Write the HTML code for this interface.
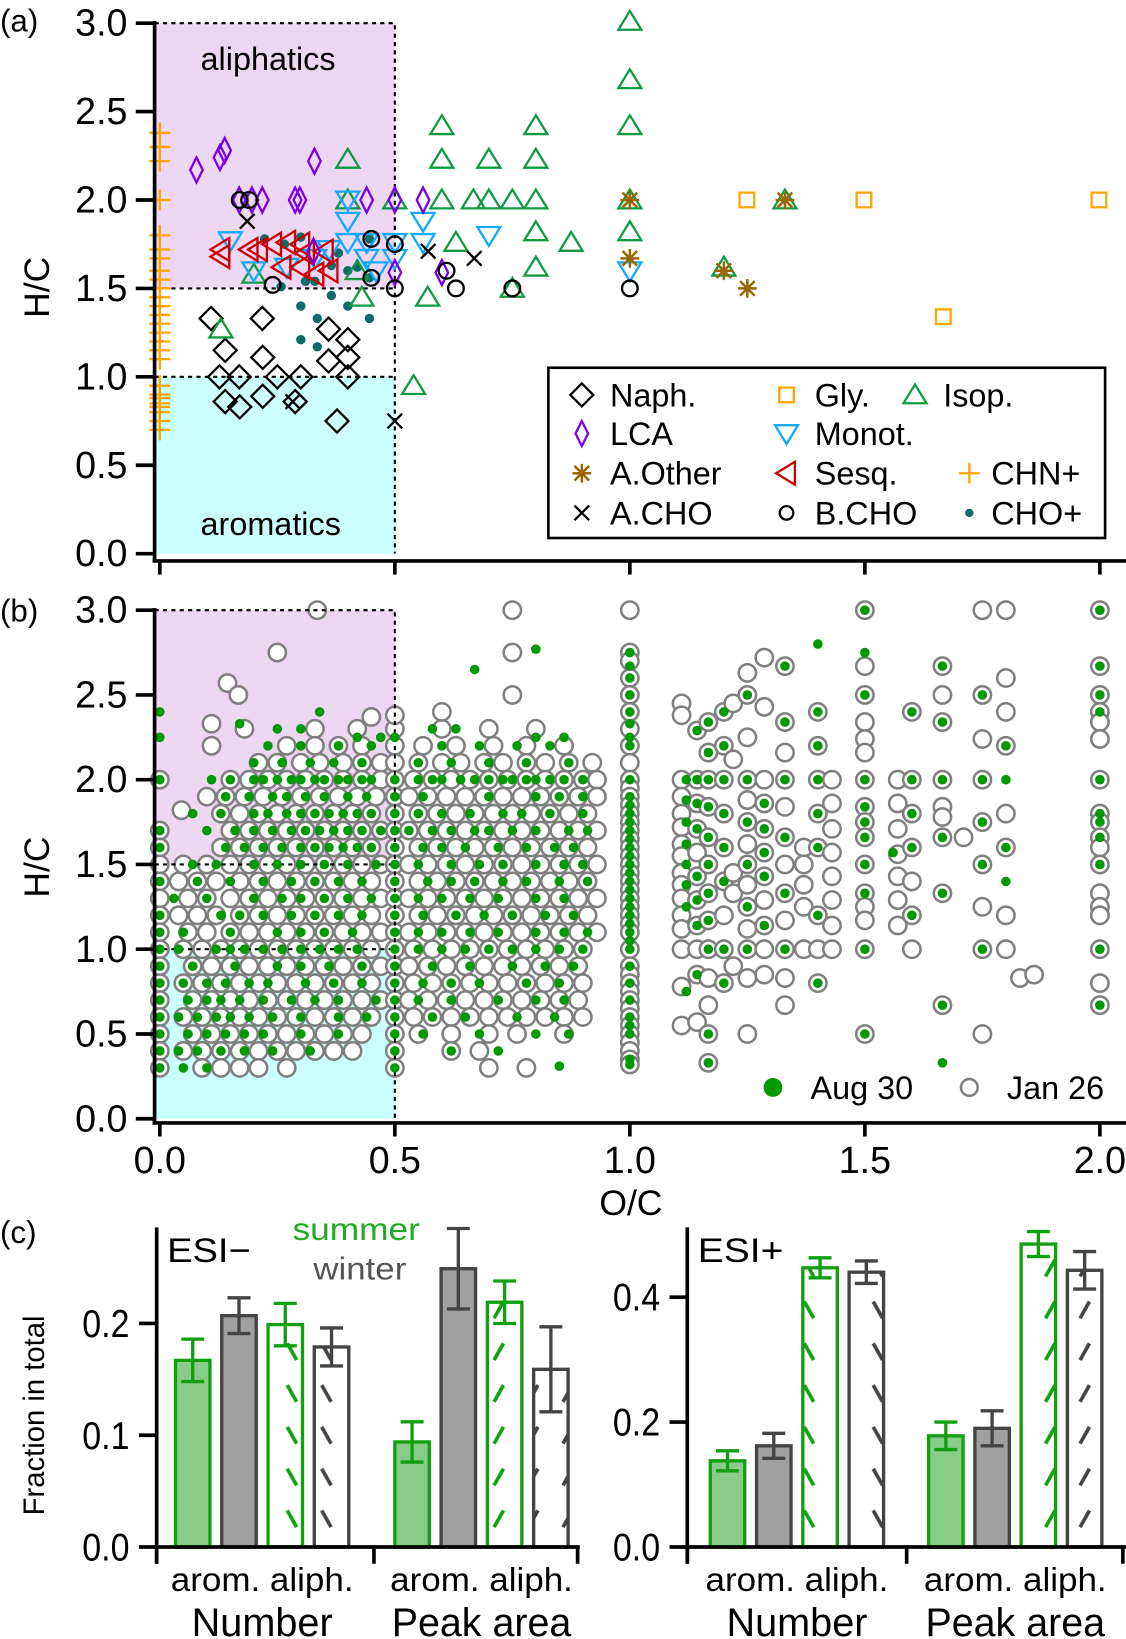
<!DOCTYPE html>
<html><head><meta charset="utf-8"><title>H/C vs O/C</title>
<style>html,body{margin:0;padding:0;background:#fff}svg{display:block}text{font-family:"Liberation Sans",sans-serif}</style></head>
<body>
<svg id="fig" xmlns="http://www.w3.org/2000/svg" width="1126" height="1639" viewBox="0 0 1078 1569">
<defs>
<pattern id="hatchG" patternUnits="userSpaceOnUse" width="33" height="40"><line x1="11" y1="6" x2="20" y2="22" stroke="#11a011" stroke-width="3.5"/></pattern>
<pattern id="hatchG2" patternUnits="userSpaceOnUse" width="33" height="40"><line x1="20" y1="6" x2="11" y2="22" stroke="#11a011" stroke-width="3.5"/></pattern>
<pattern id="hatchK" patternUnits="userSpaceOnUse" width="33" height="40"><line x1="11" y1="6" x2="20" y2="22" stroke="#444" stroke-width="3.5"/></pattern>
<pattern id="hatchK2" patternUnits="userSpaceOnUse" width="33" height="40"><line x1="20" y1="6" x2="11" y2="22" stroke="#444" stroke-width="3.5"/></pattern>
</defs>
<g id="pa"></g>
<g id="pb"></g>
<g id="pc"></g>
</svg>
<script>
// ---------- Panel (a) data ----------
const naphOC=[.109,.218,.139,.219,.127,.169,.25,.30,.139,.17,.219,.288,.359,.40,.40,.359,.40,.377];
const naphHC=[1.33,1.33,1.15,1.11,1.0,1.0,1.0,1.0,.86,.83,.89,.86,1.27,1.21,1.11,1.09,1.0,.75];
const lcaOC=[.078,.128,.138,.329,.169,.196,.218,.288,.298,.44,.5,.56,.5,.60,.327];
const lcaHC=[2.17,2.24,2.28,2.22,2.0,2.0,2.0,2.0,2.0,2.0,2.0,2.0,1.59,1.59,1.71];
const aothOC=[1.0,1.0,1.2,1.25,1.33];
const aothHC=[2.0,1.67,1.6,1.5,2.0];
const achoOC=[.186,.283,.5,.571,.669];
const achoHC=[1.88,.86,.75,1.71,1.67];
const glyOC=[1.249,1.498,1.998,1.667];
const glyHC=[2.0,2.0,2.0,1.34];
const isopOC=[1.0,1.0,1.0,1.0,1.0,.6,.8,.6,.7,.8,.4,.6,.667,.7,.75,.8,.4,.5,.8,.875,.8,.63,.57,.54,.13,.43,.75,1.33,1.2,.42,.2];
const isopHC=[3.01,2.68,2.42,2.0,1.82,2.42,2.42,2.23,2.23,2.23,2.23,2.0,2.0,2.0,2.0,2.0,2.0,2.0,1.82,1.76,1.62,1.76,1.45,.95,1.27,1.45,1.5,2.0,1.62,1.6,1.58];
const monoOC=[.4,.4,.44,.44,.4,.5,.5,.56,.56,.7,1.0,.15,.2,.33,.36,.46,.27];
const monoHC=[2.0,1.88,1.76,1.67,1.76,1.76,1.67,1.88,1.76,1.8,1.6,1.77,1.6,1.67,1.72,1.6,1.62];
const sesqOC=[.13,.13,.19,.24,.27,.3,.31,.26,.3,.33,.35,.21,.36];
const sesqHC=[1.72,1.68,1.72,1.75,1.76,1.75,1.7,1.62,1.62,1.58,1.71,1.72,1.6];
const bchoOC=[.17,.19,.24,.45,.45,.5,.5,.61,.63,.75,1.0];
const bchoHC=[2.0,2.0,1.52,1.78,1.56,1.75,1.5,1.6,1.5,1.5,1.5];
const chnHC=[2.38,2.3,2.22,2.0,1.8,1.72,1.67,1.6,1.55,1.5,1.45,1.4,1.35,1.3,1.25,1.2,1.15,1.1,.95,.9,.88,.85,.83,.8,.75,.7];
const choOC=[.3,.335,.3,.335,.446,.4,.365,.4,.446,.223,.265,.3,.365,.33,.31,.258,.446,.38,.42];
const choHC=[1.4,1.33,1.21,1.17,1.33,1.4,1.46,1.6,1.78,1.78,1.75,1.79,1.63,1.54,1.54,1.51,1.56,1.7,1.62];
const yTicks=[0,0.5,1.0,1.5,2.0,2.5,3.0];
const yTickLabels=["0.0","0.5","1.0","1.5","2.0","2.5","3.0"];
const xTicks=[0,0.5,1.0,1.5,2.0];
const xTickLabels=["0.0","0.5","1.0","1.5","2.0"];

// ---------- Panel (b) data ----------
const janRowHC=[2.3,2.2,2.1,2.0,1.9,1.8,1.7,1.6,1.5,1.4,1.3,1.2,1.1,1.0,0.9,0.8,0.7,0.6,0.5,0.4,0.3];
const janRowOC=[
[.18,.33,.42,.5,.6,.7,.8],
[.11,.27,.33,.38,.43,.5,.56,.63,.71,.78,.86],
[.21,.25,.3,.34,.39,.43,.47,.5,.55,.6,.64,.69,.73,.78,.82,.87,.92],
[0,.15,.19,.23,.27,.31,.35,.39,.43,.47,.5,.54,.58,.62,.66,.7,.74,.78,.82,.86,.9,.93],
[.1,.14,.18,.22,.26,.3,.34,.38,.42,.46,.5,.53,.57,.61,.65,.69,.73,.77,.81,.85,.89,.93],
[.13,.17,.21,.25,.29,.33,.37,.41,.45,.5,.55,.59,.63,.67,.71,.75,.79,.83,.87,.91],
[0,.15,.19,.23,.27,.31,.35,.39,.43,.47,.5,.53,.57,.61,.65,.69,.73,.77,.81,.85,.89,.93],
[0,.13,.17,.21,.25,.29,.33,.37,.41,.45,.5,.55,.59,.63,.67,.71,.75,.79,.83,.87,.91],
[0,.05,.1,.15,.19,.23,.27,.31,.35,.39,.43,.47,.5,.53,.57,.61,.65,.69,.73,.77,.81,.85,.89,.93],
[0,.04,.08,.12,.17,.21,.25,.29,.33,.37,.41,.45,.5,.55,.59,.63,.67,.71,.75,.79,.83,.87,.91],
[0,.06,.1,.15,.19,.23,.27,.31,.35,.39,.43,.47,.5,.53,.57,.61,.65,.69,.73,.77,.81,.85,.89,.93],
[0,.04,.08,.12,.17,.21,.25,.29,.33,.37,.41,.45,.5,.55,.59,.63,.67,.71,.75,.79,.83,.87,.91],
[0,.06,.1,.15,.19,.23,.27,.31,.35,.39,.43,.47,.5,.53,.57,.61,.65,.69,.73,.77,.81,.85,.89,.93],
[0,.05,.09,.13,.17,.21,.25,.29,.33,.37,.41,.45,.5,.54,.58,.62,.66,.7,.74,.78,.82,.86,.9],
[0,.07,.11,.15,.19,.23,.27,.31,.35,.39,.43,.47,.5,.53,.57,.61,.65,.69,.73,.77,.81,.85,.89],
[0,.05,.09,.13,.17,.21,.25,.29,.33,.37,.41,.45,.5,.54,.58,.62,.66,.7,.74,.78,.82,.86,.9],
[0,.07,.11,.15,.19,.23,.27,.31,.35,.39,.43,.47,.5,.53,.57,.61,.65,.69,.73,.77,.81,.85,.89],
[0,.05,.09,.13,.17,.21,.25,.29,.33,.37,.41,.45,.5,.54,.58,.62,.66,.7,.74,.78,.82,.86,.9],
[0,.07,.11,.15,.19,.23,.27,.31,.35,.39,.43,.5,.55,.62,.7,.76,.86],
[0,.05,.09,.13,.17,.21,.25,.29,.33,.37,.41,.5,.62,.68],
[0,.09,.13,.17,.21,.27,.5,.7,.78]];
const janColOC=[1.0,1.11,1.143,1.167,1.2,1.22,1.25,1.286,1.33,1.37,1.4,1.43,1.5,1.57,1.6,1.665,1.75,1.8,2.0];
const janColHC=[
[3.0,2.75,2.7,2.6,2.5,2.4,2.3,2.2,2.1,2.0,1.95,1.9,1.85,1.8,1.75,1.7,1.65,1.6,1.55,1.5,1.45,1.4,1.35,1.3,1.25,1.2,1.15,1.1,1.0,.9,.85,.8,.75,.7,.65,.6,.55,.5,.45,.4,.35,.32],
[2.45,2.38,2.0,1.9,1.8,1.72,1.62,1.55,1.45,1.38,1.3,1.2,1.12,1.0,.78,.55],
[2.29,2.0,1.86,1.71,1.57,1.43,1.29,1.14,1.0,.85,.57],
[2.34,2.16,2.0,1.84,1.66,1.5,1.33,1.17,1.0,.83,.67,.5,.33],
[2.4,2.2,2.0,1.8,1.6,1.4,1.2,1.0,.8],
[2.45,2.12,1.45,1.33,.9],
[2.63,2.5,2.25,2.0,1.88,1.75,1.62,1.5,1.38,1.25,1.12,1.0,.83,.5],
[2.72,2.43,2.0,1.86,1.71,1.57,1.43,1.29,1.14,1.0,.85],
[2.67,2.34,2.16,2.0,1.84,1.66,1.5,1.33,1.17,1.0,.83,.67],
[1.6,1.5,1.38,1.25,1.0],
[2.4,2.2,2.0,1.8,1.6,1.2,1.0,.8],
[2.0,1.86,1.71,1.57,1.43,1.29,1.14,1.0],
[3.0,2.67,2.5,2.34,2.24,2.16,2.0,1.84,1.75,1.66,1.5,1.33,1.25,1.17,1.0,.5],
[2.0,1.86,1.71,1.56,1.43,1.29,1.14],
[2.4,2.0,1.8,1.6,1.4,1.2,1.0],
[2.67,2.5,2.34,2.0,1.84,1.78,1.66,1.33,.67],
[3.0,2.5,2.24,2.0,1.75,1.5,1.25,1.0,.5],
[3.0,2.6,2.4,2.2,1.8,1.6,1.2,1.0],
[3.0,2.67,2.5,2.4,2.34,2.24,2.0,1.8,1.75,1.66,1.6,1.5,1.33,1.25,1.2,1.0,.8,.67]];
const janExtraOC=[.335,.25,.144,.167,.11,.046,.75,.75,.75,.6,.5,.45,1.71,1.83,1.86];
const janExtraHC=[3.0,2.75,2.57,2.5,2.33,1.82,3.0,2.75,2.5,2.4,2.38,2.37,1.66,.83,.85];

const augRowHC=[2.4,2.3,2.25,2.2,2.1,2.0,1.9,1.8,1.7,1.6,1.5,1.4,1.3,1.2,1.1,1.0,0.9,0.8,0.7,0.6,0.5,0.4,0.3];
const augRowOC=[
[0,.34],[.25,.3,.58,.63],[0,.42,.47,.5,.8,.86],[.23,.3,.38,.45,.6,.68,.76,.83],
[.2,.26,.32,.37,.43,.55,.62,.7,.78,.87],
[0,.11,.15,.2,.22,.25,.28,.3,.33,.35,.38,.4,.43,.45,.5,.55,.58,.6,.64,.67,.7,.73,.75,.78,.8,.83,.86,.9],
[.14,.19,.24,.27,.31,.35,.4,.44,.5,.56,.7,.8,.85,.9],
[.07,.13,.2,.23,.27,.3,.33,.36,.39,.42,.45,.5,.55,.6,.66,.73,.77,.83,.9],
[0,.1,.16,.2,.24,.28,.31,.34,.37,.4,.43,.47,.5,.53,.58,.62,.67,.7,.75,.8,.87,.91],
[0,.14,.18,.22,.26,.3,.33,.36,.39,.42,.45,.5,.56,.6,.65,.72,.78,.84,.88],
[.07,.12,.2,.25,.3,.35,.4,.46,.5,.55,.62,.68,.73,.8,.86,.9],
[0,.08,.15,.22,.28,.33,.38,.43,.5,.57,.62,.67,.73,.78,.85,.91],
[.03,.1,.2,.26,.3,.35,.4,.45,.5,.55,.6,.66,.72,.8,.86],
[0,.13,.17,.22,.28,.33,.38,.43,.5,.56,.63,.69,.75,.82,.88],
[0,.05,.15,.25,.3,.35,.41,.5,.55,.6,.66,.72,.8,.86,.91],
[0,.04,.12,.15,.18,.22,.26,.3,.34,.38,.42,.5,.55,.6,.65,.7,.75,.8,.85,.9],
[0,.07,.16,.25,.3,.36,.43,.5,.58,.66,.75,.82,.88],
[0,.05,.1,.14,.19,.23,.31,.37,.43,.5,.56,.62,.68,.78,.85],
[0,.06,.1,.13,.17,.22,.28,.33,.38,.46,.5,.55,.62,.72,.8,.86],
[0,.04,.08,.12,.15,.19,.24,.3,.38,.44,.5,.58,.65,.76,.84],
[0,.06,.1,.14,.18,.22,.3,.38,.5,.56,.68,.8,.87],
[0,.04,.08,.13,.18,.24,.32,.5,.62,.72],
[0,.05,.1,.5]];
const augColOC=[1.0,1.12,1.143,1.167,1.2,1.25,1.286,1.33,1.4,1.5,1.56,1.6,1.665,1.75,1.8,2.0];
const augColHC=[
[2.75,2.67,2.6,2.5,2.4,2.33,2.25,2.2,2.0,1.9,1.85,1.8,1.75,1.7,1.65,1.6,1.55,1.5,1.45,1.4,1.35,1.3,1.25,1.2,1.15,1.1,1.05,1.0,.9,.8,.7,.6,.55,.5,.35,.32],
[2.0,1.88,1.75,1.62,1.5,1.38,1.25,.75],
[2.29,2.0,1.86,1.71,1.43,1.29,1.14,.85],
[2.34,2.16,2.0,1.84,1.66,1.5,1.33,1.17,1.0,.5,.33],
[2.4,2.2,2.0,1.8,1.6,1.4,1.0,.8],
[2.5,2.0,1.75,1.5,1.25,1.0],
[1.86,1.71,1.57,1.43,1.14],
[2.67,2.34,2.0,1.66,1.33,1.0],
[2.8,2.4,2.2,2.0,1.8,1.6,1.2,.8],
[3.0,2.75,2.5,2.0,1.84,1.75,1.66,1.5,1.33,1.0,.5],
[1.57],
[2.4,2.0,1.8,1.6,1.2],
[2.67,2.34,2.0,1.66,1.33,.67,.33],
[2.5,2.0,1.75,1.5,1.0],
[2.2,2.0,1.6,1.4],
[3.0,2.67,2.5,2.4,2.0,1.8,1.75,1.66,1.5,1.0,.67]];
const augExtraOC=[.67,.8,.85,.17];
const augExtraHC=[2.65,2.77,.31,2.33];

// ---------- Panel (c) data ----------
const barCats=["arom. summer","arom. winter","aliph. summer","aliph. winter"];
const esiNegVals=[.167,.207,.199,.179,.094,.249,.219,.159];
const esiNegErr=[.019,.016,.019,.017,.018,.036,.019,.038];
const esiPosVals=[.138,.162,.447,.44,.178,.19,.485,.443];
const esiPosErr=[.016,.02,.016,.018,.022,.028,.02,.03];
const negTicks=[0,0.1,0.2];
const negTickLabels=["0.0","0.1","0.2"];
const posTicks=[0,0.2,0.4];
const posTickLabels=["0.0","0.2","0.4"];

// ---------- helpers ----------
const NS="http://www.w3.org/2000/svg";
function mk(parent,tag,attrs,txt){const e=document.createElementNS(NS,tag);for(const k in attrs)e.setAttribute(k,attrs[k]);if(txt!==undefined)e.textContent=txt;parent.appendChild(e);return e;}
const xo=oc=>153+450*oc;
const ya=hc=>530-169.3*hc;
const yb=hc=>1071-162.3*hc;

function marker(g,type,x,y,color){
  let e;
  if(type==="diamond"){e=mk(g,"path",{d:`M${x} ${y-11}L${x+11} ${y}L${x} ${y+11}L${x-11} ${y}Z`,fill:"none",stroke:color,"stroke-width":2.2});}
  else if(type==="thin"){e=mk(g,"path",{d:`M${x} ${y-12}L${x+6} ${y}L${x} ${y+12}L${x-6} ${y}Z`,fill:"none",stroke:color,"stroke-width":2.2});}
  else if(type==="star"){e=mk(g,"path",{d:`M${x-9} ${y}H${x+9}M${x} ${y-9}V${y+9}M${x-7} ${y-7}L${x+7} ${y+7}M${x-7} ${y+7}L${x+7} ${y-7}`,stroke:color,"stroke-width":2.4});}
  else if(type==="x"){e=mk(g,"path",{d:`M${x-7} ${y-7}L${x+7} ${y+7}M${x-7} ${y+7}L${x+7} ${y-7}`,stroke:color,"stroke-width":2.2});}
  else if(type==="square"){e=mk(g,"rect",{x:x-7,y:y-7,width:14,height:14,fill:"none",stroke:color,"stroke-width":2.2});}
  else if(type==="up"){e=mk(g,"path",{d:`M${x} ${y-10}L${x+11} ${y+8}L${x-11} ${y+8}Z`,fill:"none",stroke:color,"stroke-width":2.2});}
  else if(type==="down"){e=mk(g,"path",{d:`M${x} ${y+10}L${x+11} ${y-8}L${x-11} ${y-8}Z`,fill:"none",stroke:color,"stroke-width":2.2});}
  else if(type==="left"){e=mk(g,"path",{d:`M${x-10} ${y}L${x+8} ${y-11}L${x+8} ${y+11}Z`,fill:"none",stroke:color,"stroke-width":2.2});}
  else if(type==="circle"){e=mk(g,"circle",{cx:x,cy:y,r:7.5,fill:"none",stroke:color,"stroke-width":2.2});}
  else if(type==="plus"){e=mk(g,"path",{d:`M${x-10} ${y}H${x+10}M${x} ${y-10}V${y+10}`,stroke:color,"stroke-width":2.2});}
  else if(type==="dot"){e=mk(g,"circle",{cx:x,cy:y,r:4.5,fill:color});}
  return e;
}

function shading(g,yf){
  const r1=mk(g,"rect",{x:148,y:yf(3),width:xo(.5)-148,height:yf(1.5)-yf(3),fill:"#eed7f2"});
  
  
  const r2=mk(g,"rect",{x:148,y:yf(1),width:xo(.5)-148,height:yf(0)-yf(1),fill:"#ccffff"});
  
  
}
function dotted(g,yf){
  const d=`M148 ${yf(3)}H${xo(.5)}V${yf(0)}M148 ${yf(1.5)}H${xo(.5)}M148 ${yf(1)}H${xo(.5)}`;
  const p=mk(g,"path",{d:d,fill:"none",stroke:"#000","stroke-width":2,"stroke-dasharray":"4 4"});
  
  
}
function yAxis(g,yf,top,bottom,name){
  const a=mk(g,"g",{});
  
  
  mk(a,"line",{x1:148,y1:top,x2:148,y2:bottom,stroke:"#000","stroke-width":3.5});
  yTicks.forEach((t,i)=>{
    mk(a,"line",{x1:130,y1:yf(t),x2:148,y2:yf(t),stroke:"#000","stroke-width":3.5});
    const tl=mk(a,"text",{x:122,y:yf(t)+12,"font-size":36,"text-anchor":"end"},yTickLabels[i]);
    
    
  });
}
function xAxis(g,y,labels,name){
  const a=mk(g,"g",{});
  
  
  mk(a,"line",{x1:146,y1:y,x2:1078,y2:y,stroke:"#000","stroke-width":3.5});
  xTicks.forEach((t,i)=>{
    mk(a,"line",{x1:xo(t),y1:y,x2:xo(t),y2:y+13,stroke:"#000","stroke-width":3.5});
    if(labels){const tl=mk(a,"text",{x:xo(t),y:y+48,"font-size":36,"text-anchor":"middle"},xTickLabels[i]);
      
      }
  });
}

// ---------- Panel (a) ----------
const pa=document.getElementById('pa');
shading(pa,ya);
dotted(pa,ya);
let t;
t=mk(pa,"text",{x:192,y:67,"font-size":31},"aliphatics");


t=mk(pa,"text",{x:192,y:512,"font-size":31},"aromatics");


function series(name,oc,hc,type,color){
  const g=mk(pa,"g",{});
  
  
  oc.forEach((o,i)=>{const m=marker(g,type,xo(o),ya(hc[i]),color);
    
    });
}
series('cho-plus-series',choOC,choHC,"dot","#0b6b6b");
series('chn-plus-series',chnHC.map(()=>0),chnHC,"plus","#ffa500");
series('naph-series',naphOC,naphHC,"diamond","#000");
series('isop-series',isopOC,isopHC,"up","#119944");
series('monot-series',monoOC,monoHC,"down","#11aaff");
series('sesq-series',sesqOC,sesqHC,"left","#cc0000");
series('lca-series',lcaOC,lcaHC,"thin","#7a00e6");
series('bcho-series',bchoOC,bchoHC,"circle","#000");
series('acho-series',achoOC,achoHC,"x","#000");
series('gly-series',glyOC,glyHC,"square","#ffa500");
series('aother-series',aothOC,aothHC,"star","#996600");
yAxis(pa,ya,20,537,'y-axis-a');
xAxis(pa,537,false,'x-axis-a');
t=mk(pa,"text",{x:0,y:30,"font-size":30},"(a)");


t=mk(pa,"text",{x:47,y:275,"font-size":34,"text-anchor":"middle",transform:"rotate(-90 47 275)"},"H/C");


// legend
const lg=mk(pa,"g",{});


mk(lg,"rect",{x:525,y:352,width:533,height:163,fill:"#fff",stroke:"#000","stroke-width":2.5});
const legItems=[["diamond","#000","Naph.",557,378],["thin","#7a00e6","LCA",557,415],["star","#996600","A.Other",557,453],["x","#000","A.CHO",557,491],
["square","#ffa500","Gly.",753,378],["down","#11aaff","Monot.",753,415],["left","#cc0000","Sesq.",753,453],["circle","#000","B.CHO",753,491],
["up","#119944","Isop.",876,378],["plus","#ffa500","CHN+",928,453],["dot","#0b6b6b","CHO+",928,491]];
legItems.forEach(L=>{
  const e=mk(lg,"g",{});
  
  
  const m=marker(e,L[0],L[3],L[4],L[1]);
  if(L[0]==="circle")m.setAttribute("r",6.5);
  if(L[0]==="dot")m.setAttribute("r",4);
  mk(e,"text",{x:L[3]+(L[0]==="plus"||L[0]==="dot"?21:27),y:L[4]+11,"font-size":31},L[2]);
});

// ---------- Panel (b) ----------
const pb=document.getElementById('pb');
shading(pb,yb);
const jan=mk(pb,"g",{});


function janPt(o,h){const c=mk(jan,"circle",{cx:xo(o),cy:yb(h),r:8.3,fill:"#fff",stroke:"#7f7f7f","stroke-width":2.4});
  
  }
janRowHC.forEach((h,i)=>janRowOC[i].forEach(o=>janPt(o,h)));
janColOC.forEach((o,i)=>janColHC[i].forEach(h=>janPt(o,h)));
janExtraOC.forEach((o,i)=>janPt(o,janExtraHC[i]));
dotted(pb,yb);
const aug=mk(pb,"g",{});


function augPt(o,h){const c=mk(aug,"circle",{cx:xo(o),cy:yb(h),r:4.6,fill:"#009900"});
  
  }
augRowHC.forEach((h,i)=>augRowOC[i].forEach(o=>augPt(o,h)));
augColOC.forEach((o,i)=>augColHC[i].forEach(h=>augPt(o,h)));
augExtraOC.forEach((o,i)=>augPt(o,augExtraHC[i]));
yAxis(pb,yb,582,1075,'y-axis-b');
xAxis(pb,1075,true,'x-axis-b');
t=mk(pb,"text",{x:0,y:595,"font-size":30},"(b)");


t=mk(pb,"text",{x:47,y:830,"font-size":34,"text-anchor":"middle",transform:"rotate(-90 47 830)"},"H/C");


t=mk(pb,"text",{x:604,y:1163,"font-size":34,"text-anchor":"middle"},"O/C");


const lb=mk(pb,"g",{});


mk(lb,"circle",{cx:740,cy:1041,r:9,fill:"#009900"});
mk(lb,"text",{x:776,y:1052,"font-size":31},"Aug 30");
mk(lb,"circle",{cx:928,cy:1041,r:8,fill:"#fff",stroke:"#7f7f7f","stroke-width":2.4});
mk(lb,"text",{x:964,y:1052,"font-size":31},"Jan 26");

// ---------- Panel (c) ----------
const pc=document.getElementById('pc');
function barChart(name,axX,rightEnd,vals,errs,scale,ticks,tickLabels,groupStarts,groupTicks){
  const g=mk(pc,"g",{});
  
  
  const y0=1481;
  const yv=v=>y0-scale*v;
  vals.forEach((v,i)=>{
    const gi=Math.floor(i/4), k=i%4;
    const x=groupStarts[gi]+k*44.3;
    const summer=(k%2===0), hatched=(k>=2);
    const col=summer?"#11a011":"#444";
    const fill=hatched?(summer?(gi?"url(#hatchG2)":"url(#hatchG)"):(gi?"url(#hatchK2)":"url(#hatchK)")):(summer?"#88cc88":"#a0a0a0");
    const b=mk(g,"rect",{x:x,y:yv(v),width:33,height:y0-yv(v),fill:fill,stroke:col,"stroke-width":3.2});
    
    
    const cx=x+16.5;
    const eb=mk(g,"path",{d:`M${cx} ${yv(v-errs[i])}V${yv(v+errs[i])}M${cx-11} ${yv(v-errs[i])}H${cx+11}M${cx-11} ${yv(v+errs[i])}H${cx+11}`,stroke:col,"stroke-width":3.2,fill:"none"});
    
    
  });
  mk(g,"line",{x1:axX,y1:1175,x2:axX,y2:1497,stroke:"#000","stroke-width":3.5});
  mk(g,"line",{x1:axX-2,y1:y0,x2:rightEnd,y2:y0,stroke:"#000","stroke-width":3.5});
  groupTicks.forEach(x=>mk(g,"line",{x1:x,y1:y0,x2:x,y2:1497,stroke:"#000","stroke-width":3.5}));
  ticks.forEach((tk,i)=>{
    mk(g,"line",{x1:axX-17,y1:yv(tk),x2:axX,y2:yv(tk),stroke:"#000","stroke-width":3.5});
    const tl=mk(g,"text",{x:axX-26,y:yv(tk)+13,"font-size":37,"text-anchor":"end",transform:`translate(${axX-26} 0) scale(0.88 1) translate(${-(axX-26)} 0)`},tickLabels[i]);
    
    
  });
  groupStarts.forEach((gs,gi)=>{
    const c=gs+83;
    const a=mk(g,"text",{x:c,y:1523,"font-size":32,"text-anchor":"middle",textLength:175,lengthAdjust:"spacingAndGlyphs"},"arom. aliph.");
    
    
    const n=mk(g,"text",{x:c,y:1566,"font-size":38,"text-anchor":"middle",textLength:gi?172:135,lengthAdjust:"spacingAndGlyphs"},gi?"Peak area":"Number");
    
    
  });
}
barChart('esi-neg-chart',150,555,esiNegVals,esiNegErr,1070,negTicks,negTickLabels,[168,378],[150,358,553]);
barChart('esi-pos-chart',658,1078,esiPosVals,esiPosErr,598,posTicks,posTickLabels,[680,889],[658,868,1075]);
t=mk(pc,"text",{x:0,y:1190,"font-size":30},"(c)");


t=mk(pc,"text",{x:160,y:1208,"font-size":33,textLength:80,lengthAdjust:"spacingAndGlyphs"},"ESI−");


t=mk(pc,"text",{x:668,y:1208,"font-size":33,textLength:82,lengthAdjust:"spacingAndGlyphs"},"ESI+");


t=mk(pc,"text",{x:280,y:1187,"font-size":30,fill:"#22aa22",textLength:122,lengthAdjust:"spacingAndGlyphs"},"summer");


t=mk(pc,"text",{x:300,y:1225,"font-size":30,fill:"#555",textLength:89,lengthAdjust:"spacingAndGlyphs"},"winter");


t=mk(pc,"text",{x:42,y:1355,"font-size":28,"text-anchor":"middle",transform:"rotate(-90 42 1355)"},"Fraction in total");


</script>
</body></html>
